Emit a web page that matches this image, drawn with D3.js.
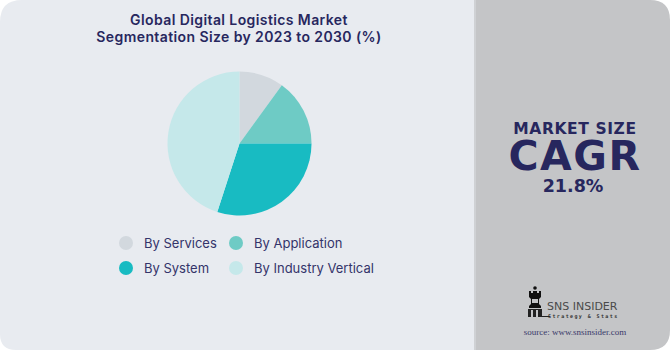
<!DOCTYPE html>
<html><head><meta charset="utf-8">
<script src="https://cdn.jsdelivr.net/npm/d3@7"></script>
<style>html,body{margin:0;padding:0;background:#fff;}svg{display:block;}</style>
</head><body>
<svg id="c" width="670" height="350"></svg>
<script>
const categories = ["By Services", "By Application", "By System", "By Industry Vertical"];
const values = [10, 15, 30, 45];
const colors = ["#d2d8de", "#6ecbc5", "#18bbc2", "#c5e8ea"];
const titleLines = ["Global Digital Logistics Market", "Segmentation Size by 2023 to 2030 (%)"];
const cagrValue = "21.8%";

const svg = d3.select("#c");
const navy = "#27275e";
const font = "Inter, 'Noto Sans', sans-serif";
const bold = "'DejaVu Sans', Inter, sans-serif";

// left panel
svg.append("path")
  .attr("d", "M0,22 Q0,0 22,0 L474,0 L474,350 L16,350 Q0,350 0,334 Z")
  .attr("fill", "#e8ebf0");
// right panel
svg.append("path")
  .attr("d", "M474,0 L650,0 Q670,0 670,20 L670,330 Q670,350 650,350 L474,350 Z")
  .attr("fill", "#c4c5c7");
svg.append("rect").attr("x", 474).attr("y", 0).attr("width", 2).attr("height", 350).attr("fill", "#cfd1d4");

// title
svg.append("g").selectAll("text").data(titleLines).join("text")
  .attr("x", 239).attr("y", (d, i) => 25 + i * 17)
  .attr("text-anchor", "middle")
  .attr("font-family", font).attr("font-weight", 600).attr("font-size", 14)
  .attr("letter-spacing", 0.4)
  .attr("fill", navy).text(d => d);

// pie
const pie = d3.pie().sort(null).value(d => d)(values);
const arc = d3.arc().innerRadius(0).outerRadius(72);
svg.append("g").attr("transform", "translate(239.5,143.5)")
  .selectAll("path").data(pie).join("path")
  .attr("d", arc).attr("fill", (d, i) => colors[i]);

// legend
const legX = [126, 236], legY = [243, 268], txtDx = 18;
const leg = svg.append("g").selectAll("g").data(categories).join("g")
  .attr("transform", (d, i) => `translate(${legX[i % 2]},${legY[Math.floor(i / 2)]})`);
leg.append("circle").attr("r", 7).attr("fill", (d, i) => colors[i]);
leg.append("text").attr("x", txtDx).attr("y", 4.5)
  .attr("font-family", font).attr("font-size", 13).attr("fill", "#34346a").text(d => d);

// right side texts
const rx = 575;
svg.append("text").attr("x", rx).attr("y", 134).attr("text-anchor", "middle")
  .attr("font-family", bold).attr("font-weight", 700).attr("font-size", 15.5)
  .attr("letter-spacing", 0.6).attr("fill", navy).text("MARKET SIZE");
svg.append("text").attr("x", rx).attr("y", 170).attr("text-anchor", "middle")
  .attr("font-family", bold).attr("font-weight", 700).attr("font-size", 41)
  .attr("letter-spacing", 1.5).attr("fill", navy).text("CAGR");
svg.append("text").attr("x", 573).attr("y", 191.5).attr("text-anchor", "middle")
  .attr("font-family", bold).attr("font-weight", 700).attr("font-size", 17.5).attr("fill", navy).text(cagrValue);

// logo (chess rook-like icon)
const logo = svg.append("g").attr("transform", "translate(527,286)");
logo.append("circle").attr("cx", 8).attr("cy", 2).attr("r", 1.8).attr("fill", "#111");
logo.append("path").attr("d", "M2,5 L4,5 L4,7 L6,7 L6,5 L10,5 L10,7 L12,7 L12,5 L14,5 L14,11 L12,13 L12,18 L14,20 L14,22 L2,22 L2,20 L4,18 L4,13 L2,11 Z").attr("fill", "#111");
logo.append("path").attr("d", "M1,23 L15,23 L15,31 L1,31 Z").attr("fill", "#222");
logo.append("rect").attr("x", 5).attr("y", 13).attr("width", 6).attr("height", 4).attr("fill", "#c4c5c7");
logo.append("rect").attr("x", 4).attr("y", 24).attr("width", 2).attr("height", 7).attr("fill", "#c4c5c7");
logo.append("rect").attr("x", 9).attr("y", 24).attr("width", 2).attr("height", 7).attr("fill", "#c4c5c7");
logo.append("rect").attr("x", 15).attr("y", 30).attr("width", 8).attr("height", 1).attr("fill", "#222");
svg.append("text").attr("x", 547).attr("y", 310).attr("font-family", "'DejaVu Sans', sans-serif")
  .attr("font-size", 11).attr("fill", "#4a4a4a").text("SNS INSIDER");
svg.append("text").attr("x", 548).attr("y", 318).attr("font-family", "'DejaVu Sans Mono', monospace")
  .attr("font-size", 5).attr("font-weight", 700).attr("letter-spacing", 1.4).attr("fill", "#333").text("Strategy & Stats");
svg.append("text").attr("x", 575).attr("y", 335).attr("text-anchor", "middle")
  .attr("font-family", "'Liberation Serif', 'DejaVu Serif', serif")
  .attr("font-size", 9).attr("fill", "#3a3a6a").text("source: www.snsinsider.com");
</script>
</body></html>
